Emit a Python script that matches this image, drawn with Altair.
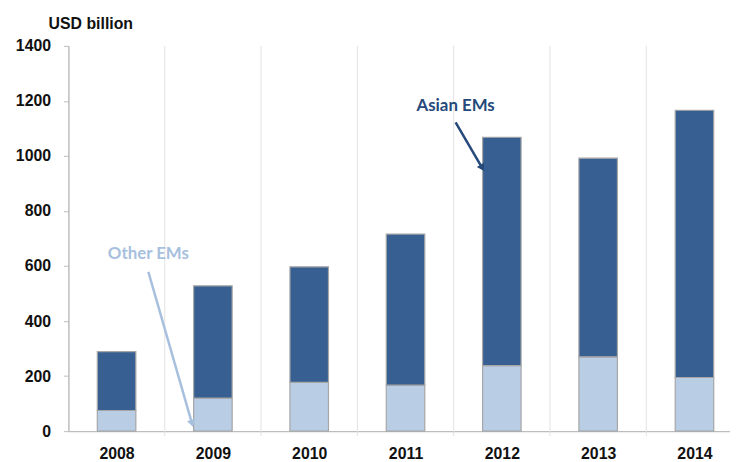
import altair as alt
import pandas as pd

years = [2008, 2009, 2010, 2011, 2012, 2013, 2014]
other_ems = [75, 120, 177, 167, 238, 270, 195]
asian_ems = [214, 408, 420, 549, 830, 722, 971]
y_ticks = [0, 200, 400, 600, 800, 1000, 1200, 1400]
separators = [2008.5, 2009.5, 2010.5, 2011.5, 2012.5, 2013.5]

# annotation texts and arrows (data coordinates)
ann_labels = ["Asian EMs", "Other EMs"]
ann_x = [2011.52, 2008.33]
ann_y = [1180, 642]
arrow_x0 = [2011.52, 2008.33]
arrow_y0 = [1122, 579]
arrow_x1 = [2011.79, 2008.78]
arrow_y1 = [960, 32]
arrow_angle = [149, 163]

DARK = "#375F92"
LIGHT = "#B9CDE5"
ANN_DARK = "#24497A"
ANN_LIGHT = "#A7C0DE"

rows = []
for i, y in enumerate(years):
    rows.append({"year": y, "series": "Other EMs", "lo": 0, "hi": other_ems[i]})
    rows.append({"year": y, "series": "Asian EMs", "lo": other_ems[i],
                 "hi": other_ems[i] + asian_ems[i]})
bars_df = pd.DataFrame(rows)

W, H = 668, 389
x_scale = alt.Scale(domain=[2007.5, 2007.5 + W / 97.25], nice=False, zero=False)
y_scale = alt.Scale(domain=[0, 1400], nice=False)

sep = alt.Chart(pd.DataFrame({"x": separators})).mark_rule(
    color="#e2e2e2", strokeWidth=1
).encode(
    x=alt.X("x:Q", scale=x_scale),
    y=alt.value(0),
    y2=alt.value(H + 5),
)

bars = alt.Chart(bars_df).transform_calculate(
    x0="datum.year - 0.2", x1="datum.year + 0.2"
).mark_rect(stroke="#a6a6a6", strokeWidth=1.2).encode(
    x=alt.X("x0:Q", scale=x_scale, axis=alt.Axis(
        values=years, format="d", ticks=False, grid=False, labelFontSize=16,
        labelFontWeight="bold", labelFont="Liberation Sans", labelColor="#111",
        labelPadding=15, domainColor="#bdbdbd", domainWidth=1.5, title=None,
        labelFlush=False)),
    x2="x1:Q",
    y=alt.Y("lo:Q", scale=y_scale, axis=alt.Axis(
        values=y_ticks, format="d", grid=False, labelFontSize=16,
        labelFontWeight="bold", labelFont="Liberation Sans", labelColor="#111",
        labelPadding=13, tickSize=5, tickColor="#bdbdbd", domainColor="#bdbdbd",
        domainWidth=1.5, title=None)),
    y2="hi:Q",
    color=alt.Color("series:N", scale=alt.Scale(domain=["Other EMs", "Asian EMs"],
                                                range=[LIGHT, DARK]), legend=None),
)

ann_df = pd.DataFrame({"label": ann_labels, "x": ann_x, "y": ann_y})
texts = alt.Chart(ann_df).mark_text(
    font="Lato", fontSize=17, fontWeight="bold"
).encode(
    x=alt.X("x:Q", scale=x_scale),
    y=alt.Y("y:Q", scale=y_scale),
    text="label:N",
    color=alt.Color("label:N", scale=alt.Scale(domain=ann_labels,
                                               range=[ANN_DARK, ANN_LIGHT]), legend=None),
)

line_rows = []
for i, lab in enumerate(ann_labels):
    line_rows.append({"label": lab, "x": arrow_x0[i], "y": arrow_y0[i], "k": 0})
    line_rows.append({"label": lab, "x": arrow_x1[i], "y": arrow_y1[i], "k": 1})
lines = alt.Chart(pd.DataFrame(line_rows)).mark_line(strokeWidth=2.5).encode(
    x=alt.X("x:Q", scale=x_scale),
    y=alt.Y("y:Q", scale=y_scale),
    detail="label:N",
    order="k:Q",
    color=alt.Color("label:N", scale=alt.Scale(domain=ann_labels,
                                               range=[ANN_DARK, ANN_LIGHT]), legend=None),
)

head_df = pd.DataFrame({"label": ann_labels, "x": arrow_x1, "y": arrow_y1,
                        "angle": arrow_angle})
heads = alt.Chart(head_df).mark_point(shape="triangle", filled=True, size=70,
                                      opacity=1).encode(
    x=alt.X("x:Q", scale=x_scale),
    y=alt.Y("y:Q", scale=y_scale),
    angle=alt.Angle("angle:Q", scale=None),
    color=alt.Color("label:N", scale=alt.Scale(domain=ann_labels,
                                               range=[ANN_DARK, ANN_LIGHT]), legend=None),
)

chart = alt.layer(sep, bars, lines, heads, texts).properties(
    width=W, height=H,
    padding={"left": 7, "top": 6, "right": 0, "bottom": 5},
    title=alt.Title("USD billion", anchor="start", frame="group", dx=-20,
                    fontSize=16, fontWeight="bold", font="Liberation Sans",
                    color="#111", offset=6),
).configure_view(stroke=None).resolve_scale(color="independent")

chart.save("out.html", embed_options={"renderer": "svg", "actions": False})
